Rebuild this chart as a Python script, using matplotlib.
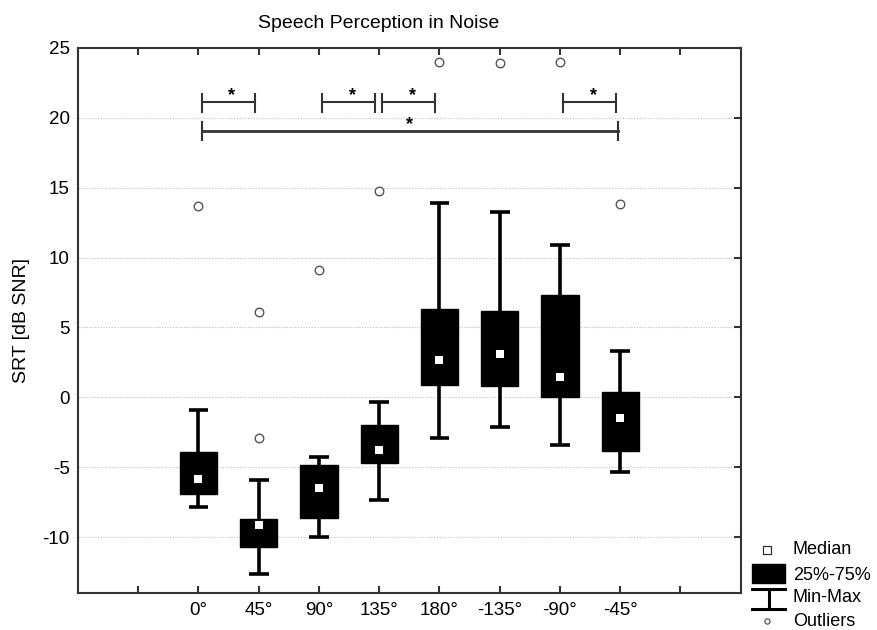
import matplotlib
matplotlib.use("Agg")
import matplotlib.pyplot as plt
import numpy as np

plt.rcParams['font.family'] = ['Liberation Sans', 'DejaVu Sans']

categories = ['0°', '45°', '90°', '135°', '180°', '-135°', '-90°', '-45°']
mins    = [-7.8, -12.6, -10.0, -7.3, -2.9, -2.1, -3.4, -5.3]
q1      = [-6.9, -10.7, -8.65, -4.7, 0.9, 0.83, 0.05, -3.8]
medians = [-5.8, -9.1, -6.5, -3.77, 2.68, 3.13, 1.45, -1.44]
q3      = [-3.9, -8.7, -4.85, -1.96, 6.33, 6.17, 7.35, 0.4]
maxs    = [-0.9, -5.9, -4.25, -0.3, 13.87, 13.23, 10.93, 3.32]
outlier_cat = [0, 1, 1, 2, 3, 4, 5, 6, 7]
outlier_val = [13.7, 6.1, -2.9, 9.1, 14.75, 23.95, 23.88, 23.97, 13.8]
# significance brackets (category index pairs)
sig_pairs = [(0, 1), (2, 3), (3, 4), (6, 7)]
sig_long = (0, 7)

fig = plt.figure(figsize=(8.77, 6.3), dpi=100)
ax = fig.add_axes([78/877, 1-593.3/630, (740.7-78)/877, (593.3-47.7)/630])

pos = np.arange(1, len(categories) + 1)
dark = '#333333'

ax.set_xlim(-1, 10)
ax.set_ylim(-14, 25)
ax.set_yticks([-10, -5, 0, 5, 10, 15, 20, 25])
ax.set_yticklabels(['-10', '-5', '0', '5', '10', '15', '20', '25'])
ax.set_xticks(np.arange(0, 10))
ax.set_xticklabels([''] + categories + [''])

for yv in [-10, -5, 0, 5, 10, 15, 20]:
    ax.axhline(yv, color='#bbbbbb', lw=0.8, ls=(0, (1, 1.5)), zorder=0)

# whiskers and caps
ax.vlines(pos, mins, maxs, color='black', lw=2.6, zorder=2)
ax.hlines(mins, pos - 0.165, pos + 0.165, color='black', lw=2.6, zorder=2)
ax.hlines(maxs, pos - 0.165, pos + 0.165, color='black', lw=2.6, zorder=2)
# boxes
ax.bar(pos, np.array(q3) - np.array(q1), bottom=q1, width=0.62,
       color='black', edgecolor='black', zorder=3)
# medians
ax.scatter(pos, medians, marker='s', s=36, color='white', zorder=4, linewidths=0)
# outliers
ax.scatter(pos[outlier_cat], outlier_val, marker='o', s=38,
           facecolors='white', edgecolors='#555555', linewidths=1.0, zorder=4)

# significance brackets
for a, b in sig_pairs:
    x0, x1 = pos[a] + 0.05, pos[b] - 0.07
    ax.plot([x0, x1], [21.1, 21.1], color=dark, lw=1.5, zorder=3)
    ax.plot([x0, x0], [20.4, 21.7], color=dark, lw=1.5, zorder=3)
    ax.plot([x1, x1], [20.4, 21.7], color=dark, lw=1.5, zorder=3)
    ax.text((x0 + x1) / 2 + 0.06, 20.95, '*', ha='center', va='bottom',
            fontsize=13, fontweight='bold', color='black')
a, b = sig_long
x0, x1 = pos[a] + 0.05, pos[b] - 0.04
ax.plot([x0, x1], [19.04, 19.04], color=dark, lw=2.0, zorder=3)
ax.plot([x0, x0], [18.4, 19.7], color=dark, lw=1.5, zorder=3)
ax.plot([x1, x1], [18.4, 19.7], color=dark, lw=1.5, zorder=3)
ax.text((x0 + x1) / 2, 18.88, '*', ha='center', va='bottom',
        fontsize=13, fontweight='bold', color='black')

for s in ax.spines.values():
    s.set_color(dark)
    s.set_linewidth(1.5)
ax.tick_params(axis='x', direction='in', top=True, bottom=True, length=5,
               width=1.5, color=dark, labelsize=13.5, pad=6)
ax.tick_params(axis='y', direction='in', left=False, right=True, length=5,
               width=1.5, color=dark, labelsize=13.5, pad=6)
ax.yaxis.set_tick_params(labelleft=True)

ax.set_ylabel('SRT [dB SNR]', fontsize=14, labelpad=9)
fig.text(378.5/877, 1-24/630, 'Speech Perception in Noise', ha='center',
         va='center', fontsize=14)

# legend drawn in its own pixel-space axes
lg = fig.add_axes([741/877, 0, 136/877, 100/630])
lg.set_xlim(741, 877)
lg.set_ylim(630, 530)
lg.axis('off')
lg.scatter([767], [550], marker='s', s=30, facecolors='white',
           edgecolors='#333333', linewidths=0.9, clip_on=False)
lg.add_patch(plt.Rectangle((752, 564), 33, 19, color='black'))
lg.plot([752, 785], [589, 589], color='black', lw=2.2, clip_on=False)
lg.plot([752, 785], [608.5, 608.5], color='black', lw=2.2, clip_on=False)
lg.plot([768.5, 768.5], [589, 608.5], color='black', lw=2.2, clip_on=False)
lg.scatter([767], [621], marker='o', s=14, facecolors='white',
           edgecolors='#555555', linewidths=0.9, clip_on=False)
for txt, yy in [('Median', 550), ('25%-75%', 575), ('Min-Max', 598), ('Outliers', 621)]:
    lg.text(793, yy, txt, ha='left', va='center', fontsize=13, clip_on=False)

fig.savefig('out.png', dpi=100)
